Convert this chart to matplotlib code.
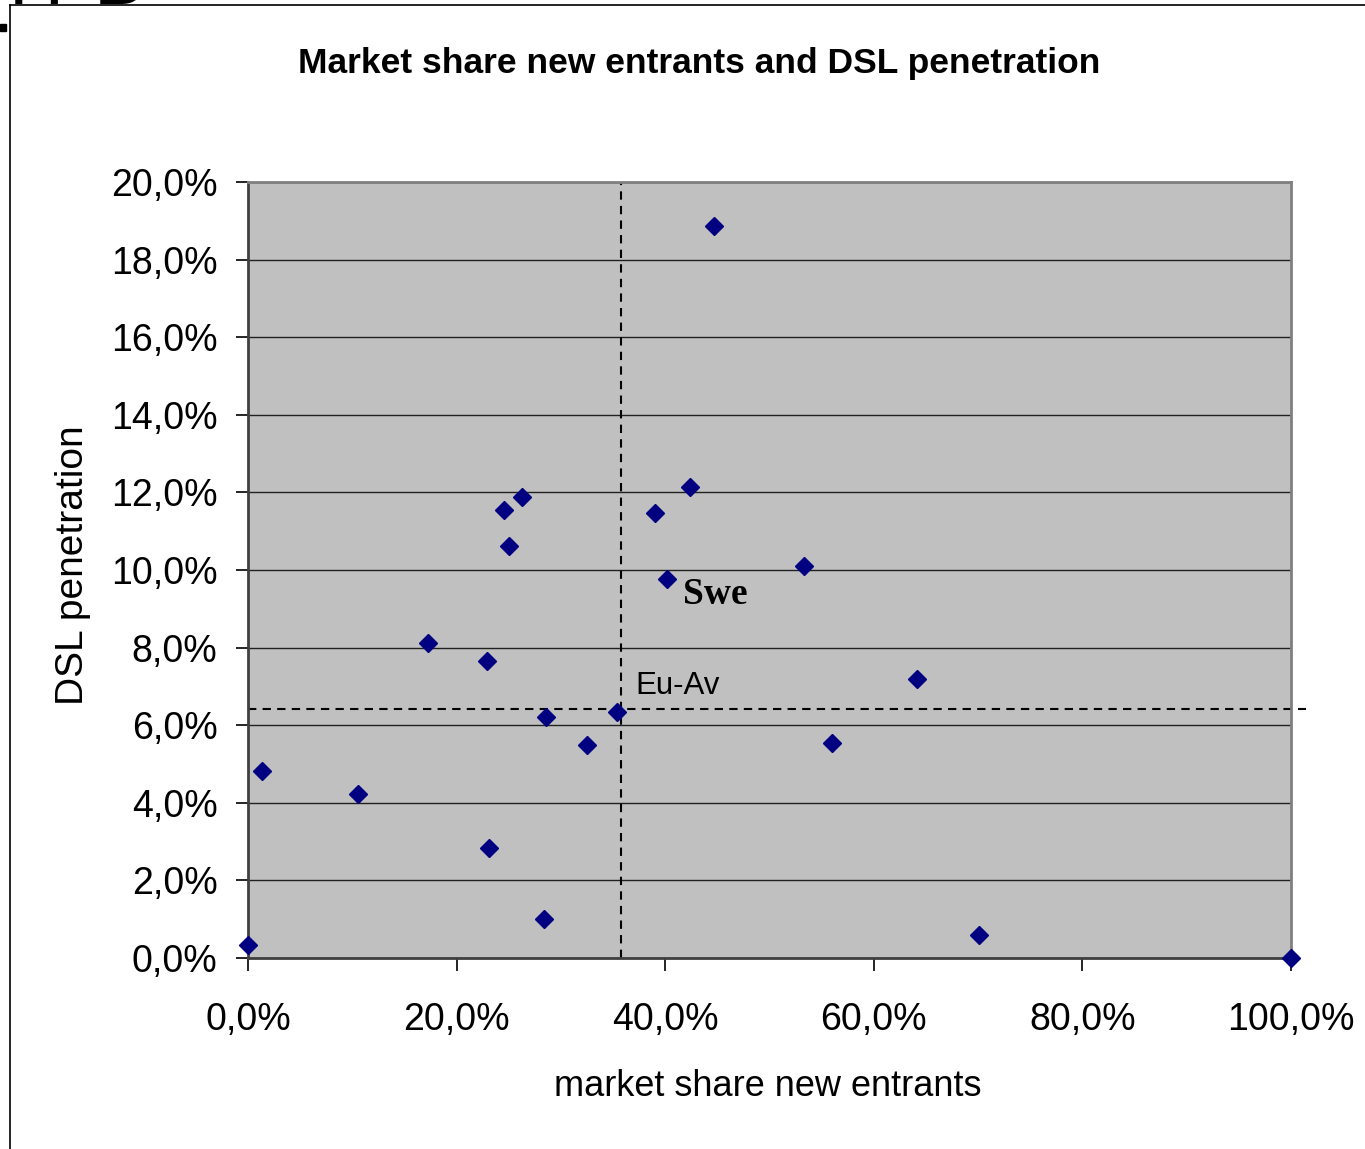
import matplotlib
matplotlib.use("Agg")
import matplotlib.pyplot as plt
from matplotlib.ticker import FuncFormatter, MultipleLocator
from matplotlib.lines import Line2D
from matplotlib.patches import Rectangle

# Data (fractions)
market_share = [0.447, 0.424, 0.263, 0.245, 0.390, 0.250, 0.533, 0.402, 0.173,
                0.229, 0.641, 0.286, 0.354, 0.325, 0.560, 0.013, 0.105, 0.231,
                0.284, 0.701, 0.000, 1.000]
dsl_pen = [0.1887, 0.1214, 0.1188, 0.1155, 0.1147, 0.1062, 0.1010, 0.0977, 0.0812,
           0.0765, 0.0719, 0.0621, 0.0634, 0.0549, 0.0554, 0.0482, 0.0423, 0.0284,
           0.0101, 0.0059, 0.0034, 0.0000]
eu_avg_x = 0.358
eu_avg_y = 0.0642

plt.rcParams['font.family'] = ['Liberation Sans', 'DejaVu Sans']

W, H = 1365, 1149
fig = plt.figure(figsize=(W/100, H/100), dpi=100)
ax = fig.add_axes([248/W, 1-958/H, (1291-248)/W, (958-182)/H])
ax.set_facecolor('#C0C0C0')

ax.set_xlim(0, 1.0)
ax.set_ylim(0, 0.20)
ax.xaxis.set_major_locator(MultipleLocator(0.2))
ax.yaxis.set_major_locator(MultipleLocator(0.02))
fmt = FuncFormatter(lambda v, p: f"{v*100:.1f}%".replace('.', ','))
ax.xaxis.set_major_formatter(fmt)
ax.yaxis.set_major_formatter(fmt)
ax.tick_params(axis='both', direction='out', length=9, width=1.2, colors='black',
               labelsize=27)
ax.tick_params(axis='x', pad=23)
ax.tick_params(axis='y', pad=13)
ax.grid(axis='y', color='#202020', linewidth=1.0)
ax.set_axisbelow(True)

for side in ['top', 'right']:
    ax.spines[side].set_color('#808080')
    ax.spines[side].set_linewidth(2)
for side in ['left', 'bottom']:
    ax.spines[side].set_color('#404040')
    ax.spines[side].set_linewidth(2)

# Eu-Av dashed lines
ax.axvline(eu_avg_x, color='black', linestyle=(0, (4, 3)), linewidth=1.5, zorder=2)
ax.add_line(Line2D([0.0, 1.014], [eu_avg_y, eu_avg_y], color='black',
                   linestyle=(0, (4, 3)), linewidth=1.5, clip_on=False, zorder=2))

ax.plot(market_share, dsl_pen, linestyle='none', marker='D', markersize=9.5,
        color='#000080', clip_on=False, zorder=5)

ax.text(0.371, 0.0702, 'Eu-Av', fontsize=22.5, color='black', ha='left', va='center')
ax.text(0.417, 0.0938, 'Swe', fontsize=27, fontweight='bold', color='black',
        family=['Liberation Serif', 'DejaVu Serif'], ha='left', va='center')

fig.text(699/W, 1-64/H, 'Market share new entrants and DSL penetration',
         fontsize=25.5, fontweight='bold', ha='center', va='center')
fig.text(768/W, 1-1087/H, 'market share new entrants', fontsize=26,
         ha='center', va='center')
fig.text(73/W, 1-565/H, 'DSL penetration', fontsize=28, rotation=90,
         ha='center', va='center')

# outer frame of the slide and cut-off fragments above it
fig.add_artist(Line2D([10/W, 10/W], [0, 1-5/H], color='black',
                      linewidth=1.2, transform=fig.transFigure))
fig.add_artist(Line2D([10/W, 1], [1-5/H, 1-5/H], color='black',
                      linewidth=1.2, transform=fig.transFigure))
fig.text(9/W, 1-4/H, 'H', fontsize=55, va='baseline', ha='left')
fig.text(94/W, 1-4/H, 'B', fontsize=55, va='baseline', ha='left')
fig.add_artist(Rectangle((0, 1-31/H), 6/W, 7/H, color='black',
                         transform=fig.transFigure))

fig.savefig('out.png', dpi=100)
